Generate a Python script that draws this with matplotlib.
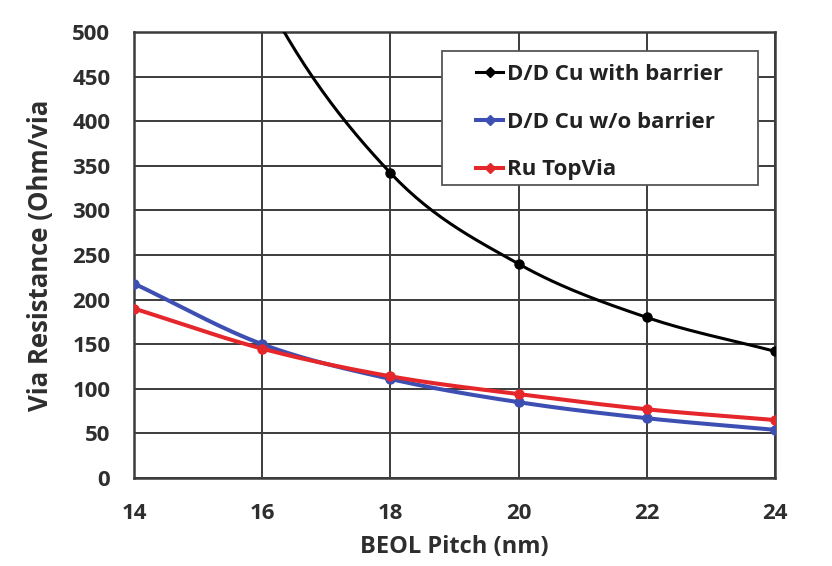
import numpy as np
import matplotlib
matplotlib.use("Agg")
import matplotlib.pyplot as plt
from matplotlib.patches import Rectangle

# -------------------------------------------------
# DATA
# -------------------------------------------------
pitch = [14, 16, 18, 20, 22, 24]
cu_barrier = [900, 545, 342, 240, 180, 142]
cu_no_barrier = [218, 150, 111, 85, 67, 54]
ru_topvia = [190, 145, 114, 94, 77, 65]

labels = ["D/D Cu with barrier", "D/D Cu w/o barrier", "Ru TopVia"]
colors = ["#000000", "#3d4fb2", "#e5262b"]


def smooth(x, y, n=30):
    # Catmull-Rom curve through the points (like Excel's smoothed lines)
    x = np.asarray(x, float)
    y = np.asarray(y, float)
    px = np.concatenate([[2 * x[0] - x[1]], x, [2 * x[-1] - x[-2]]])
    py = np.concatenate([[2 * y[0] - y[1]], y, [2 * y[-1] - y[-2]]])
    xs, ys = [], []
    t = np.linspace(0, 1, n, endpoint=False)
    for i in range(1, len(px) - 2):
        for p, out in ((px, xs), (py, ys)):
            p0, p1, p2, p3 = p[i - 1], p[i], p[i + 1], p[i + 2]
            out.extend(0.5 * ((2 * p1) + (-p0 + p2) * t
                              + (2 * p0 - 5 * p1 + 4 * p2 - p3) * t ** 2
                              + (-p0 + 3 * p1 - 3 * p2 + p3) * t ** 3))
    xs.append(x[-1])
    ys.append(y[-1])
    return np.array(xs), np.array(ys)


plt.rcParams["font.family"] = ["Open Sans", "DejaVu Sans"]
TXT = "#2e2e2e"

fig = plt.figure(figsize=(8.32, 5.66), dpi=100)
ax = fig.add_axes([0.161, 0.1555, 0.7705, 0.788])

for yv, lab, col in zip([cu_barrier, cu_no_barrier, ru_topvia], labels, colors):
    sx, sy = smooth(pitch, yv)
    lw = 2.2 if col == "#000000" else 2.9
    ax.plot(sx, sy, color=col, lw=lw, zorder=3)
    ax.plot(pitch, yv, "o", color=col, ms=6.5, zorder=4)
    ax.plot([], [], color=col, lw=lw, marker="D", ms=5, label=lab)

ax.set_xlim(14, 24)
ax.set_ylim(0, 500)
ax.set_xticks(pitch)
ax.set_yticks(np.arange(0, 501, 50))
ax.grid(True, color="#3c3c3c", lw=1.4)
for s in ax.spines.values():
    s.set_color("#3c3c3c")
    s.set_linewidth(1.8)
ax.tick_params(axis="y", length=0, pad=17, labelsize=16, labelcolor=TXT)
ax.tick_params(axis="x", length=0, pad=18, labelsize=16, labelcolor=TXT)
for t in ax.get_xticklabels() + ax.get_yticklabels():
    t.set_fontweight("bold")

ax.set_xlabel("BEOL Pitch (nm)", fontsize=17, fontweight="bold", color=TXT, labelpad=8)
ax.set_ylabel("Via Resistance (Ohm/via", fontsize=18.5, fontweight="bold", color=TXT, labelpad=13)

# legend frame (wider on the left than matplotlib's padding allows)
frame = Rectangle((0.4805, 0.657), 0.493, 0.300, transform=ax.transAxes,
                  facecolor="white", edgecolor="#555555", lw=1.3, zorder=5)
ax.add_patch(frame)
leg = ax.legend(loc="upper left", bbox_to_anchor=(0.533, 0.928), borderaxespad=0,
                handlelength=1.25, handletextpad=0.15, labelspacing=1.2,
                borderpad=0, frameon=False, prop={"weight": "bold", "size": 16})
leg.set_zorder(6)
for t in leg.get_texts():
    t.set_color("#222222")

fig.savefig("out.png", dpi=100)
